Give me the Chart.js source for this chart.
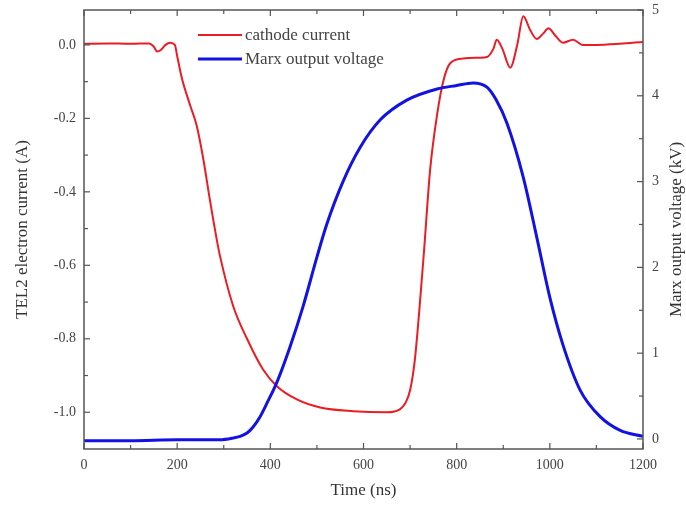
<!DOCTYPE html>
<html>
<head>
<meta charset="utf-8">
<script src="https://cdn.jsdelivr.net/npm/chart.js@4.4.0/dist/chart.umd.min.js"></script>
<style>
  html, body { margin: 0; padding: 0; background: #fff; }
</style>
</head>
<body>
<canvas id="chart-traces" width="686" height="505"></canvas>
<script>
// cathode current (A) vs time (ns)
let currentTime = [0, 50, 100, 140, 150, 157, 165, 175, 185, 195, 200, 210, 228, 242, 256, 270, 285, 292,
  320, 350, 384, 414, 457, 507, 578, 650, 678, 690, 700, 710, 720, 730, 743, 758, 771, 786, 814, 850,
  865, 879, 886, 898, 915, 930, 943, 958, 972, 985, 997, 1012, 1028, 1050, 1070, 1100, 1150, 1200];
let currentAmps = [0.003, 0.004, 0.003, 0.004, -0.005, -0.018, -0.014, 0.0, 0.006, 0.0, -0.03, -0.09,
  -0.165, -0.22, -0.31, -0.42, -0.53, -0.575, -0.71, -0.8, -0.883, -0.929, -0.965, -0.987, -0.997, -1.0,
  -0.992, -0.975, -0.94, -0.86, -0.72, -0.56, -0.34, -0.19, -0.1, -0.05, -0.037, -0.035, -0.033, -0.01,
  0.014, -0.01, -0.062, 0.0, 0.078, 0.04, 0.016, 0.03, 0.045, 0.025, 0.006, 0.014, 0.0, 0.0, 0.003, 0.008];

// Marx output voltage (kV) vs time (ns)
let voltTime = [0, 100, 200, 292, 320, 335, 350, 363, 378, 393, 414, 442, 470, 500, 521, 556, 593, 636,
  693, 758, 800, 835, 865, 885, 908, 943, 972, 1000, 1028, 1065, 1108, 1151, 1200];
let voltKV = [-0.02, -0.02, -0.01, -0.01, 0.01, 0.03, 0.07, 0.14, 0.26, 0.42, 0.66, 1.07, 1.54, 2.12,
  2.5, 3.0, 3.4, 3.72, 3.95, 4.08, 4.12, 4.15, 4.1, 3.95, 3.68, 3.05, 2.35, 1.65, 1.1, 0.57, 0.26, 0.1, 0.03];

let timeTicks = [0, 200, 400, 600, 800, 1000, 1200];
let currentTicks = [-1.0, -0.8, -0.6, -0.4, -0.2, 0.0];
let voltTicks = [0, 1, 2, 3, 4, 5];

let seriesNames = ["cathode current", "Marx output voltage"];
let seriesColors = ["rgb(236,28,36)", "rgb(18,18,228)"];

const serif = "'Liberation Serif', 'Times New Roman', serif";

// frame with inward ticks on all four sides, plus the right title and legend
const frameTicks = {
  id: 'frameTicks',
  afterDatasetsDraw(chart) {
    const { ctx, chartArea: a, scales } = chart;
    ctx.save();
    ctx.strokeStyle = '#555';
    ctx.lineWidth = 1.5;
    ctx.strokeRect(a.left, a.top, a.right - a.left, a.bottom - a.top);
    ctx.lineWidth = 1.2;
    const mark = (x1, y1, x2, y2) => { ctx.beginPath(); ctx.moveTo(x1, y1); ctx.lineTo(x2, y2); ctx.stroke(); };

    // x: majors and midpoints
    timeTicks.forEach((t, i) => {
      let x = scales.x.getPixelForValue(t);
      mark(x, a.bottom, x, a.bottom - 6);
      mark(x, a.top, x, a.top + 6);
      if (i < timeTicks.length - 1) {
        x = scales.x.getPixelForValue((t + timeTicks[i + 1]) / 2);
        mark(x, a.bottom, x, a.bottom - 4);
        mark(x, a.top, x, a.top + 4);
      }
    });
    currentTicks.forEach((v, i) => {
      let y = scales.y.getPixelForValue(v);
      mark(a.left, y, a.left + 6, y);
      if (i < currentTicks.length - 1) {
        y = scales.y.getPixelForValue((v + currentTicks[i + 1]) / 2);
        mark(a.left, y, a.left + 4, y);
      }
    });
    voltTicks.forEach((v, i) => {
      let y = scales.y2.getPixelForValue(v);
      mark(a.right, y, a.right - 6, y);
      if (i < voltTicks.length - 1) {
        y = scales.y2.getPixelForValue((v + voltTicks[i + 1]) / 2);
        mark(a.right, y, a.right - 4, y);
      }
    });

    // right axis title, reading bottom to top
    ctx.fillStyle = '#333';
    ctx.font = '17px ' + serif;
    ctx.textAlign = 'center';
    ctx.textBaseline = 'middle';
    ctx.translate(677, (a.top + a.bottom) / 2);
    ctx.rotate(-Math.PI / 2);
    ctx.fillText('Marx output voltage (kV)', 0, 0);
    ctx.restore();

    // legend inside the plot
    ctx.save();
    ctx.font = '17px ' + serif;
    ctx.textAlign = 'left';
    ctx.textBaseline = 'middle';
    seriesNames.forEach((name, i) => {
      const y = a.top + 25 + i * 24;
      ctx.strokeStyle = seriesColors[i];
      ctx.lineWidth = i === 0 ? 2 : 3;
      mark(a.left + 114, y, a.left + 158, y);
      ctx.fillStyle = '#444';
      ctx.fillText(name, a.left + 161, y + 1);
    });
    ctx.restore();
  }
};

// keep the plot box where the reference has it, ignoring label overhang
const noOverhang = s => { s.paddingTop = 0; s.paddingBottom = 0; s.paddingLeft = 0; s.paddingRight = 0; };

new Chart(document.getElementById('chart-traces').getContext('2d'), {
  type: 'line',
  data: {
    datasets: [{
      label: seriesNames[0],
      data: currentTime.map((t, i) => ({ x: t, y: currentAmps[i] })),
      borderColor: seriesColors[0],
      borderWidth: 2,
      pointRadius: 0,
      cubicInterpolationMode: 'monotone',
      yAxisID: 'y',
      order: 2
    }, {
      label: seriesNames[1],
      data: voltTime.map((t, i) => ({ x: t, y: voltKV[i] })),
      borderColor: seriesColors[1],
      borderWidth: 3,
      pointRadius: 0,
      cubicInterpolationMode: 'monotone',
      yAxisID: 'y2',
      order: 1
    }]
  },
  options: {
    responsive: false,
    animation: false,
    layout: { padding: { top: 10, left: 0, right: 0, bottom: 0 } },
    plugins: {
      legend: { display: false },
      tooltip: { enabled: false }
    },
    scales: {
      x: {
        type: 'linear',
        min: 0,
        max: 1200,
        afterBuildTicks: s => { s.ticks = timeTicks.map(v => ({ value: v })); },
        afterFit: s => { s.height = 56; noOverhang(s); },
        grid: { display: false, drawTicks: false },
        border: { display: false },
        ticks: { color: '#444', padding: 8, maxRotation: 0, callback: v => String(v), font: { family: serif, size: 14 } },
        title: { display: true, text: 'Time (ns)', color: '#333', padding: { top: 4 }, font: { family: serif, size: 17 } }
      },
      y: {
        position: 'left',
        min: -1.1,
        max: 0.095,
        afterBuildTicks: s => { s.ticks = currentTicks.map(v => ({ value: v })); },
        afterFit: s => { s.width = 84; noOverhang(s); },
        grid: { display: false, drawTicks: false },
        border: { display: false },
        ticks: { color: '#444', padding: 8, callback: v => v.toFixed(1), font: { family: serif, size: 14 } },
        title: { display: true, text: 'TEL2 electron current (A)', color: '#333', padding: { top: 12 }, font: { family: serif, size: 17 } }
      },
      y2: {
        position: 'right',
        min: -0.117,
        max: 5,
        afterBuildTicks: s => { s.ticks = voltTicks.map(v => ({ value: v })); },
        afterFit: s => { s.width = 43; noOverhang(s); },
        grid: { display: false, drawTicks: false },
        border: { display: false },
        ticks: { color: '#444', padding: 9, font: { family: serif, size: 14 } }
      }
    }
  },
  plugins: [frameTicks]
});
</script>
</body>
</html>
